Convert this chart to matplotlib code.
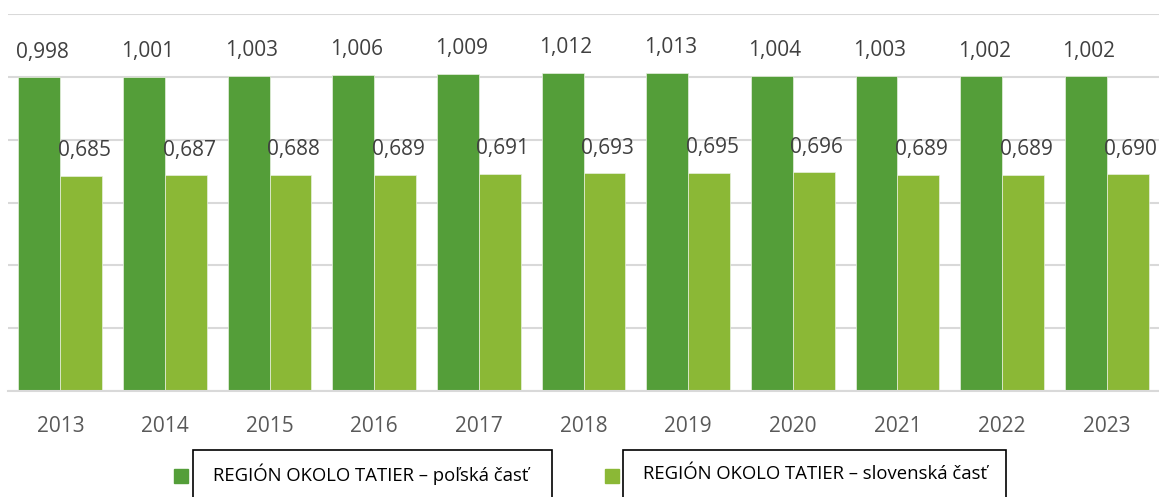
import matplotlib
matplotlib.use("Agg")
import matplotlib.pyplot as plt
from matplotlib.patches import Rectangle
import numpy as np

# ── Data ──────────────────────────────────────────────────────────────────────
YEARS = ["2013", "2014", "2015", "2016", "2017", "2018", "2019", "2020", "2021", "2022", "2023"]
POLISH = [0.998, 1.001, 1.003, 1.006, 1.009, 1.012, 1.013, 1.004, 1.003, 1.002, 1.002]
SLOVAK = [0.685, 0.687, 0.688, 0.689, 0.691, 0.693, 0.695, 0.696, 0.689, 0.689, 0.690]
LABEL_PL = "REGIÓN OKOLO TATIER – poľská časť"
LABEL_SK = "REGIÓN OKOLO TATIER – slovenská časť"

# ── Style ─────────────────────────────────────────────────────────────────────
DARK = "#549E39"
LIGHT = "#8BB836"
GRID = "#D9D9D9"
TICK = "#595959"
FONT = "Open Sans"

W, H = 1159, 497
fig = plt.figure(figsize=(W / 100, H / 100), dpi=100, facecolor="white")
ax = fig.add_axes([8 / W, 1 - 391 / H, 1 - 8 / W, (391 - 14) / H])

x = np.arange(len(YEARS))
bw = 0.4
b1 = ax.bar(x - bw / 2, POLISH, bw, color=DARK, edgecolor="#E8F0E0", linewidth=0.5, zorder=2)
b2 = ax.bar(x + bw / 2, SLOVAK, bw, color=LIGHT, edgecolor="#E8F0E0", linewidth=0.5, zorder=2)

for bars, vals in ((b1, POLISH), (b2, SLOVAK)):
    for bar, v in zip(bars, vals):
        ax.annotate(f"{v:.3f}".replace(".", ","),
                    (bar.get_x() + bar.get_width() / 2 + 0.03, v),
                    xytext=(0, 10.5), textcoords="offset points",
                    ha="center", va="bottom", fontsize=15, color="#404040",
                    family=FONT)

ax.set_xlim(-0.5, len(YEARS) - 0.5)
ax.set_ylim(0, 1.2)
ax.set_yticks(np.arange(0, 1.21, 0.2))
ax.yaxis.grid(True, color=GRID, linewidth=1.5, zorder=0)
ax.set_axisbelow(True)
ax.tick_params(axis="y", left=False, labelleft=False)
ax.tick_params(axis="x", length=0, pad=18, labelsize=15, labelcolor=TICK)
ax.set_xticks(x)
ax.set_xticklabels(YEARS, family=FONT)
for s in ("top", "right", "left"):
    ax.spines[s].set_visible(False)
ax.spines["bottom"].set_color(GRID)
ax.spines["bottom"].set_linewidth(1.5)

# ── Legend (boxed labels) ─────────────────────────────────────────────────────
def legend_item(sq_x, box_l, box_r, color, label):
    fig.patches.append(Rectangle((sq_x / W, 1 - 483 / H), 14 / W, 14 / H,
                                 transform=fig.transFigure, color=color))
    fig.patches.append(Rectangle((box_l / W, 1 - 510 / H), (box_r - box_l) / W, 60 / H,
                                 transform=fig.transFigure, facecolor="none",
                                 edgecolor="black", linewidth=1.2))
    fig.text((box_l + 20) / W, 1 - 474 / H, label, ha="left", va="center",
             fontsize=13.3, color="black", family=FONT)

legend_item(174, 193, 552, DARK, LABEL_PL)
legend_item(605, 623, 1006, LIGHT, LABEL_SK)

fig.savefig("out.png", dpi=100, facecolor="white")
